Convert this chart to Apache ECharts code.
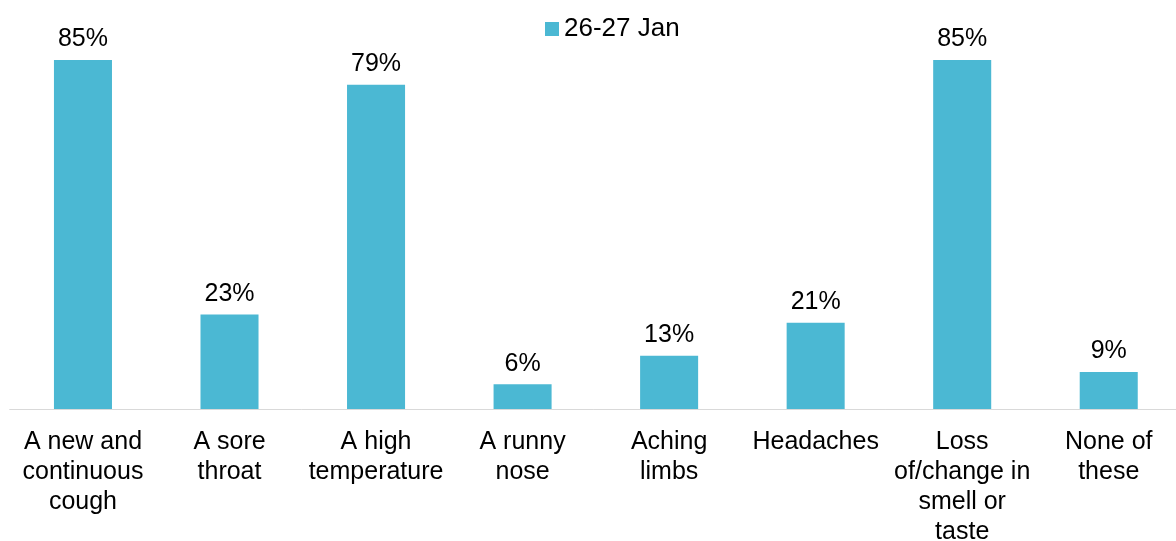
<!DOCTYPE html>
<html><head><meta charset="utf-8">
<script src="https://cdn.jsdelivr.net/npm/echarts@6/dist/echarts.min.js"></script>
<style>html,body{margin:0;padding:0;background:#fff}#c{width:1176px;height:541px}</style>
</head><body><div id="c"></div>
<script>
const categories = ["A new and\ncontinuous\ncough","A sore\nthroat","A high\ntemperature","A runny\nnose","Aching\nlimbs","Headaches","Loss\nof/change in\nsmell or\ntaste","None of\nthese"];
const seriesName = "26-27 Jan";
const values = [85,23,79,6,13,21,85,9];
const chart = echarts.init(document.getElementById('c'));
chart.setOption({
  animation:false,
  textStyle:{fontFamily:'Liberation Sans, Arial, sans-serif'},
  legend:{top:11,left:540,itemWidth:14,itemHeight:14,icon:'rect',itemGap:8,
    textStyle:{fontSize:26,color:'#000',fontFamily:'Liberation Sans'},data:[seriesName]},
  grid:{left:9.7,right:-6,top:39.5,bottom:132,containLabel:false,outerBoundsMode:'none'},
  xAxis:{type:'category',data:categories,axisTick:{show:false},
    axisLine:{lineStyle:{color:'#d9d9d9',width:1}},
    axisLabel:{interval:0,fontSize:25,color:'#000',lineHeight:30,margin:18,fontFamily:'Liberation Sans'}},
  yAxis:{type:'value',min:0,max:90,show:false,splitLine:{show:false}},
  series:[{name:seriesName,type:'bar',data:values,barWidth:'39.6%',
    itemStyle:{color:'#4BB8D3'},
    label:{show:true,position:'top',formatter:'{c}%',fontSize:25,color:'#000',distance:8,fontFamily:'Liberation Sans'}}]
});
</script></body></html>
